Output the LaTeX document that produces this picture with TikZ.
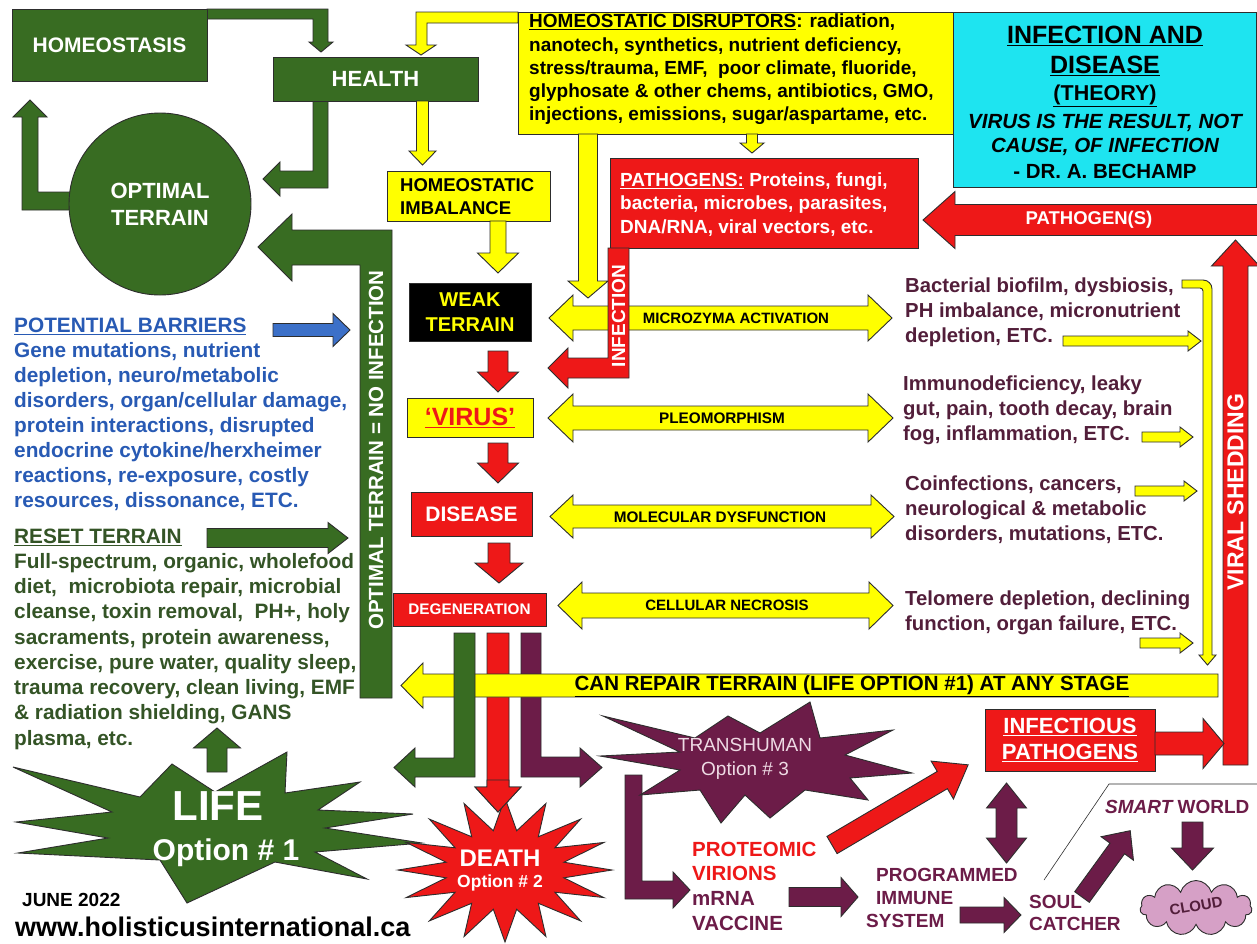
\documentclass[tikz,border=0pt]{standalone}
\usepackage{fontspec}
\setmainfont{Liberation Sans}
\usetikzlibrary{shapes.symbols}
\definecolor{dg}{RGB}{56,108,34}
\definecolor{gtxt}{RGB}{52,84,38}
\definecolor{btxt}{RGB}{40,90,180}
\definecolor{barr}{RGB}{60,112,200}
\definecolor{yel}{RGB}{255,255,0}
\definecolor{rd}{RGB}{238,24,24}
\definecolor{pur}{RGB}{108,28,72}
\definecolor{ptxt}{RGB}{82,30,58}
\definecolor{cy}{RGB}{30,228,240}
\definecolor{cloudc}{RGB}{214,160,198}
\definecolor{olc}{RGB}{45,45,45}
\definecolor{thtxt}{RGB}{238,218,228}
% straight block arrow: colour, x, y (tail centre), angle, length, shaft half-width, head half-width, head length
\newcommand{\barw}[8]{\path[fill=#1,draw=olc,line width=0.9pt,shift={(#2,#3)},rotate=#4] (0,-#6) -- ({#5-#8},-#6) -- ({#5-#8},-#7) -- (#5,0) -- ({#5-#8},#7) -- ({#5-#8},#6) -- (0,#6) -- cycle;}
% double block arrow: colour, x, y (first tip), angle, length, shaft hw, head hw, head length
\newcommand{\dbarw}[8]{\path[fill=#1,draw=olc,line width=0.9pt,shift={(#2,#3)},rotate=#4] (0,0) -- (#8,-#7) -- (#8,-#6) -- ({#5-#8},-#6) -- ({#5-#8},-#7) -- (#5,0) -- ({#5-#8},#7) -- ({#5-#8},#6) -- (#8,#6) -- (#8,#7) -- cycle;}
\begin{document}
\begin{tikzpicture}[x=1pt,y=-1pt,
  ol/.style={draw=olc,line width=0.9pt},
  fnt/.style 2 args={font=\fontsize{#1}{#2}\selectfont\bfseries},
  txt/.style={inner sep=0pt},
  box/.style={ol,inner sep=0pt}]
\fill[white] (0,0) rectangle (1257,943);
\useasboundingbox (0,0) rectangle (1257,943);

% ---------- top left ----------
\path[fill=dg,ol] (207,9) -- (328,9) -- (328,42) -- (333,42) -- (321,52) -- (309,42) -- (313,42) -- (313,19) -- (207,19) -- cycle;
\node[box,fill=dg,minimum width=195,minimum height=72,fnt={21}{25},text=white] (homeo) at (109.5,45) {HOMEOSTASIS};
\path[fill=yel,ol] (518,12) -- (416,12) -- (416,45) -- (406,45) -- (421,55) -- (436,45) -- (427,45) -- (427,23) -- (518,23) -- cycle;
\path[fill=dg,ol] (313,101) -- (328,101) -- (328,188) -- (280,188) -- (280,196) -- (263,179) -- (280,162) -- (280,171) -- (313,171) -- cycle;
\node[box,fill=dg,minimum width=205,minimum height=44,fnt={22}{26},text=white] (health) at (375.5,79) {HEALTH};
\barw{yel}{422.5}{101}{-90}{64}{6}{13.5}{14}
\path[fill=dg,ol] (90,192) -- (38,192) -- (38,117) -- (47,117) -- (30,100) -- (13,117) -- (22,117) -- (22,210) -- (90,210) -- cycle;
\node[circle,box,fill=dg,minimum size=182,align=center,fnt={22}{27},text=white] (opt) at (160,204) {OPTIMAL\\TERRAIN};
\path[fill=dg,ol] (392,698) -- (392,230) -- (292,230) -- (292,214) -- (258,247) -- (292,281) -- (292,265) -- (360,265) -- (360,698) -- cycle;
\node[txt,rotate=90,fnt={20.5}{24},text=white] (noinf) at (376,450) {OPTIMAL TERRAIN = NO INFECTION};

% ---------- disruptors and theory ----------
\path[fill=yel,ol] (518,12) rectangle (953,134);
\node[txt,anchor=west,align=left,fnt={19}{23.2}] (disr) at (529,69.5) {\underline{HOMEOSTATIC DISRUPTORS}: radiation,\\nanotech, synthetics, nutrient deficiency,\\stress/trauma, EMF,\ \ poor climate, fluoride,\\glyphosate \& other chems, antibiotics, GMO,\\injections, emissions, sugar/aspartame, etc.};
\path[fill=cy,ol] (953,12) rectangle (1256,187);
\node[txt,fnt={25}{28}] (th1) at (1105,36) {\underline{INFECTION AND}};
\node[txt,fnt={25}{28}] (th2) at (1105,66) {\underline{DISEASE}};
\node[txt,fnt={21.5}{25}] (th3) at (1105,96) {\underline{(THEORY)}};
\node[txt,fnt={20.5}{24}] (th4) at (1105,123) {\itshape VIRUS IS THE RESULT, NOT};
\node[txt,fnt={20.5}{24}] (th5) at (1105,147) {\itshape CAUSE, OF INFECTION};
\node[txt,fnt={20.5}{24}] (th6) at (1105,171) {- DR. A. BECHAMP};
\barw{yel}{752}{134}{-90}{19}{5.5}{12}{10}
\path[fill=rd,ol] (610,158) rectangle (918,248);
\node[txt,anchor=west,align=left,fnt={19}{23.5},text=white] (path) at (620,204.5) {\underline{PATHOGENS:} Proteins, fungi,\\bacteria, microbes, parasites,\\DNA/RNA, viral vectors, etc.};
\barw{rd}{1258}{220}{180}{335}{15.5}{28.5}{32}
\node[txt,fnt={18.5}{22},text=white] (paths) at (1089,220) {PATHOGEN(S)};
\barw{rd}{1235.5}{765}{90}{525}{12.5}{24}{26}
\node[txt,rotate=90,fnt={23}{26},text=white] (shed) at (1235.5,492) {VIRAL SHEDDING};

% ---------- central column ----------
\path[fill=yel,ol] (387,171) rectangle (550,221);
\node[txt,anchor=west,align=left,fnt={18.5}{23}] (imb) at (400,196.5) {HOMEOSTATIC\\IMBALANCE};
\barw{yel}{498}{221}{-90}{52}{8}{20.5}{20}
\node[box,fill=black,minimum width=122,minimum height=58,align=center,fnt={20}{25},text=yel] (weak) at (470,312) {WEAK\\TERRAIN};
\barw{rd}{498}{351}{-90}{41}{10}{20.5}{20}
\node[box,fill=yel,minimum width=126,minimum height=39,fnt={25}{28},text=rd] (virus) at (470,417.5) {\underline{‘VIRUS’}};
\barw{rd}{498}{443}{-90}{40}{10}{20.5}{20}
\node[box,fill=rd,minimum width=121,minimum height=44,fnt={21}{25},text=white] (disease) at (471.5,514) {DISEASE};
\barw{rd}{499}{543}{-90}{40}{11}{24}{20}
\node[box,fill=rd,minimum width=153,minimum height=33,fnt={15.3}{18},text=white] (degen) at (469.5,609.5) {DEGENERATION};

% ---------- double arrows ----------
\dbarw{yel}{549}{318}{0}{343}{12}{23}{24}
\node[txt,fnt={15}{18}] (micro) at (736,318) {MICROZYMA ACTIVATION};
\dbarw{yel}{548}{418}{0}{345}{12}{24}{25}
\node[txt,fnt={15.3}{18}] (pleo) at (722,418) {PLEOMORPHISM};
\dbarw{yel}{550}{516.5}{0}{344}{11.5}{21.5}{23}
\node[txt,fnt={15.3}{18}] (molec) at (720,517) {MOLECULAR DYSFUNCTION};
\dbarw{yel}{558}{605.5}{0}{335}{12.5}{23.5}{24}
\node[txt,fnt={15}{18}] (necro) at (727,605.5) {CELLULAR NECROSIS};
\barw{yel}{588}{134}{-90}{164}{9.5}{20}{17}
\path[fill=rd,ol] (608,248) -- (629,248) -- (629,378) -- (568,378) -- (568,388) -- (548,368) -- (568,348) -- (568,358) -- (608,358) -- cycle;
\node[txt,rotate=90,fnt={19}{22},text=white] (inf) at (618.5,316) {INFECTION};

% ---------- right text blocks ----------
\node[txt,anchor=west,align=left,fnt={20.3}{25},text=ptxt] (b1) at (905,312) {Bacterial biofilm, dysbiosis,\\PH imbalance, micronutrient\\depletion, ETC.};
\node[txt,anchor=west,align=left,fnt={20.3}{25},text=ptxt] (b2) at (903,410) {Immunodeficiency, leaky\\gut, pain, tooth decay, brain\\fog, inflammation, ETC.};
\node[txt,anchor=west,align=left,fnt={20.3}{25},text=ptxt] (b3) at (905,510) {Coinfections, cancers,\\neurological \& metabolic\\disorders, mutations, ETC.};
\node[txt,anchor=west,align=left,fnt={20.3}{25},text=ptxt] (b4) at (905,612.5) {Telomere depletion, declining\\function, organ failure, ETC.};
\barw{yel}{1063}{341}{0}{138}{5}{10}{13}
\barw{yel}{1142}{437}{0}{51}{5}{10}{13}
\barw{yel}{1135}{491}{0}{62}{5}{10}{13}
\barw{yel}{1140}{643}{0}{53}{5}{10}{13}
\path[fill=yel,ol] (1182,280) [rounded corners=9] -- (1212,280) [sharp corners] -- (1212,655) -- (1216,655) -- (1207.5,665) -- (1199,655) -- (1203,655) [rounded corners=3] -- (1203,288) [sharp corners] -- (1182,288) -- cycle;

% ---------- left texts ----------
\node[txt,anchor=west,align=left,fnt={20.8}{25},text=btxt] (barriers) at (14,414.5) {\underline{POTENTIAL BARRIERS}\\Gene mutations, nutrient\\depletion, neuro/metabolic\\disorders, organ/cellular damage,\\protein interactions, disrupted\\endocrine cytokine/herxheimer\\reactions, re-exposure, costly\\resources, dissonance, ETC.};
\barw{barr}{273}{330}{0}{77}{6.5}{16.5}{17}
\node[txt,anchor=west,align=left,fnt={20.8}{25.25},text=gtxt] (reset) at (14,639) {\underline{RESET TERRAIN}\\Full-spectrum, organic, wholefood\\diet,\ \ microbiota repair, microbial\\cleanse, toxin removal,\ \ PH+, holy\\sacraments, protein awareness,\\exercise, pure water, quality sleep,\\trauma recovery, clean living, EMF\\\& radiation shielding, GANS\\plasma, etc.};
\barw{dg}{207}{538}{0}{141}{9.5}{15.5}{20}

% ---------- degeneration outputs ----------
\barw{rd}{498}{633}{-90}{179}{11}{23}{25}
\path[fill=pur,ol] (521,633) -- (541,633) -- (541,757) -- (580,757) -- (580,748) -- (602,767.5) -- (580,787) -- (580,777) -- (521,777) -- cycle;
\barw{yel}{1218}{685.5}{180}{817}{11.5}{22.5}{22}
\node[txt,fnt={20.5}{24}] (repair) at (852,686) {\underline{CAN REPAIR TERRAIN (LIFE OPTION \#1) AT ANY STAGE}};
\path[fill=dg,ol] (454,633) -- (475,633) -- (475,777) -- (415,777) -- (415,787) -- (394,767.5) -- (415,748) -- (415,758) -- (454,758) -- cycle;

% ---------- stars ----------
\path[fill=dg,ol] (13,767) -- (140,797) -- (172,764) -- (215,792) -- (287,752) -- (285,793) -- (360,782) -- (318,810) -- (413,814) -- (325,828) -- (422,843) -- (315,852) -- (367,879) -- (275,862) -- (187,903) -- (160,860) -- (18,853) -- (108,838) -- (16,822) -- (112,812) -- cycle;
\node[txt,fnt={42}{46},text=white] (life) at (218,806) {LIFE};
\node[txt,fnt={30}{34},text=white] (life2) at (226,853) {Option \# 1};
\barw{dg}{217}{772}{90}{44}{10}{23.5}{20}
\path[fill=rd,ol] (505,798) \foreach \k in {1,...,31}{ -- ({505+(isodd(\k)?60:107)*cos(90+11.25*\k)},{870-(isodd(\k)?40:72)*sin(90+11.25*\k)}) } -- cycle;
\node[txt,fnt={24}{28},text=white] (death) at (500,858) {DEATH};
\node[txt,fnt={17.5}{20},text=white] (death2) at (500,883) {Option \# 2};
\barw{rd}{498}{780}{-90}{32}{11}{23}{25}
\path[fill=pur,ol] (625,775) -- (642,775) -- (642,881) -- (673,881) -- (673,872) -- (690,890) -- (673,908) -- (673,899) -- (625,899) -- cycle;
\path[fill=pur,ol] (603,716) -- (695,738) -- (728,716) -- (760,733) -- (810,702) -- (820,738) -- (893,730) -- (845,755) -- (912,773) -- (850,778) -- (868,800) -- (805,790) -- (770,818) -- (745,795) -- (721,823) -- (700,790) -- (640,795) -- (680,770) -- (600,756) -- (680,752) -- cycle;
\node[txt,align=center,font=\fontsize{19}{24}\selectfont,text=thtxt] (trans) at (745,759) {TRANSHUMAN\\Option \# 3};

% ---------- bottom right ----------
\node[txt,anchor=west,fnt={20.5}{24},text=rd] (prot1) at (692,849) {PROTEOMIC};
\node[txt,anchor=west,fnt={20.5}{24},text=rd] (prot2) at (692,873) {VIRIONS};
\node[txt,anchor=west,fnt={20.5}{24},text=pur] (prot3) at (692,898) {mRNA};
\node[txt,anchor=west,fnt={20.5}{24},text=pur] (prot4) at (692,923) {VACCINE};
\barw{rd}{832}{845}{30.5}{158}{10}{22}{30}
\node[box,fill=rd,minimum width=170,minimum height=62,align=center,fnt={22}{26},text=white] (infpath) at (1070,740) {\underline{INFECTIOUS}\\\underline{PATHOGENS}};
\barw{rd}{1155}{743.5}{0}{69}{11.5}{25}{21}
\dbarw{pur}{1006.5}{783}{-90}{80}{10.5}{20}{25}
\node[txt,anchor=west,fnt={19}{23},text=pur] (prog1) at (876,875) {PROGRAMMED};
\node[txt,anchor=west,fnt={19}{23},text=pur] (prog2) at (876,898) {IMMUNE};
\node[txt,anchor=west,fnt={19}{23},text=pur] (prog3) at (866,921) {SYSTEM};
\barw{pur}{789}{897}{0}{69}{9.5}{19.5}{17}
\barw{pur}{960}{915}{0}{61}{8}{17.5}{17}
\node[txt,anchor=west,fnt={19}{23},text=pur] (soul1) at (1029,902) {SOUL};
\node[txt,anchor=west,fnt={19}{23},text=pur] (soul2) at (1029,924) {CATCHER};
\coordinate (l1) at (1044,880);
\coordinate (l2) at (1109,784);
\coordinate (l3) at (1257,784);
\draw[olc,line width=0.6pt] (l1) -- (l2) -- (l3);
\barw{pur}{1082}{897}{54}{82}{9}{20}{22}
\node[txt,anchor=west,fnt={19}{23},text=pur] (smart) at (1105,807) {\itshape SMART\upshape\ WORLD};
\barw{pur}{1192.5}{822}{-90}{48}{10.5}{21}{22}
\node[cloud,cloud puffs=11,aspect=2.1,fill=cloudc,ol,minimum width=112,minimum height=55,inner sep=0pt] (cloud) at (1196,908) {};
\node[txt,rotate=10,fnt={15}{18},text=ptxt] (cloudt) at (1196,906) {CLOUD};

\node[txt,anchor=west,fnt={19}{22}] (june) at (22,900) {JUNE 2022};
\node[txt,anchor=west,fnt={27}{30}] (www) at (15,927) {www.holisticusinternational.ca};
\end{tikzpicture}
\end{document}
